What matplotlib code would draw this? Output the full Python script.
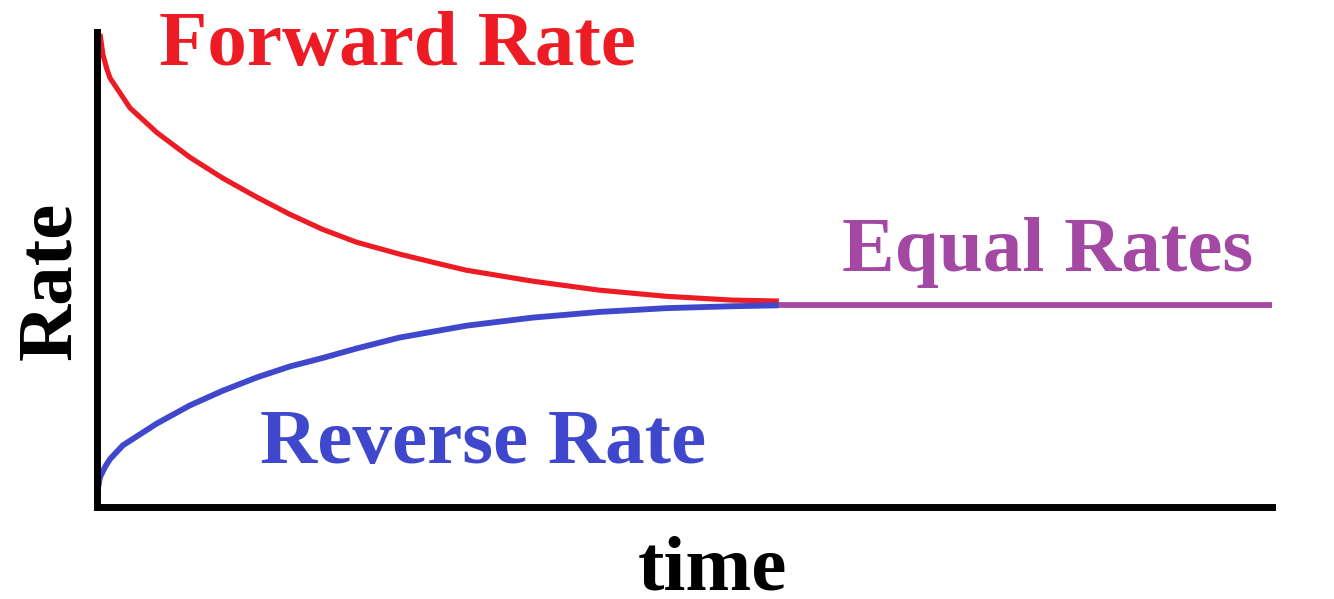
import numpy as np
import matplotlib
matplotlib.use("Agg")
from matplotlib import pyplot as plt

# curve points (time 0-100, rate 0-100)
forward_t = [0.3, 0.55, 0.87, 1.15, 2.85, 5.14, 7.94, 10.74, 13.63, 16.43,
             19.24, 22.12, 25.77, 28.9, 31.46, 37.07, 42.76, 48.45, 54.05, 58.05]
forward_r = [99.6, 95.2, 92.3, 90.3, 84.0, 78.8, 73.6, 69.2, 65.2, 61.6,
             58.4, 55.7, 53.2, 51.3, 49.8, 47.5, 45.6, 44.3, 43.5, 43.3]

reverse_t = [0.04, 0.13, 0.3, 0.72, 1.15, 2.25, 5.14, 7.94, 10.74, 13.63,
             16.43, 19.24, 22.12, 25.77, 31.46, 37.07, 42.76, 48.45, 54.05, 58.05]
reverse_r = [1.8, 3.9, 6.2, 8.3, 10.0, 12.9, 17.5, 21.3, 24.4, 27.2,
             29.5, 31.3, 33.3, 35.6, 38.1, 39.8, 41.0, 41.8, 42.2, 42.4]

equal_t = [58.05, 100.0]
equal_r = [42.4, 42.4]

RED = "#ED1C24"
BLUE = "#3F48CC"
PURPLE = "#A349A4"
FONT = "Liberation Serif"

W, H = 1334, 599
fig = plt.figure(figsize=(W / 100, H / 100), dpi=100)
# axes box in pixels: left spine at x=96.5, bottom spine at y=506.5
left, right, top, bottom = 96.5, 1272, 32, 506.5
ax = fig.add_axes([left / W, (H - bottom) / H, (right - left) / W, (bottom - top) / H])

ax.plot(forward_t, forward_r, c=RED, lw=3.7, solid_capstyle="butt",
        solid_joinstyle="round", clip_on=False)
ax.plot(reverse_t, reverse_r, c=BLUE, lw=4.2, solid_capstyle="butt",
        solid_joinstyle="round", clip_on=False)
ax.plot(equal_t, equal_r, c=PURPLE, lw=4.2, solid_capstyle="butt", clip_on=False)

ax.set_xlim(0, 100)
ax.set_ylim(0, 100)
ax.set_xticks([])
ax.set_yticks([])
for s in ["top", "right"]:
    ax.spines[s].set_visible(False)
for s in ["left", "bottom"]:
    ax.spines[s].set_linewidth(5)
    ax.spines[s].set_color("black")

txt = dict(family=FONT, weight="bold", fontsize=57)
ax.text(5.3, 93.1, "Forward Rate", color=RED, ha="left", va="baseline", **txt)
ax.text(13.9, 9.1, "Reverse Rate", color=BLUE, ha="left", va="baseline", **txt)
ax.text(63.4, 49.6, "Equal Rates", color=PURPLE, ha="left", va="baseline", **txt)

fig.text(70 / W, (H - 280.5) / H, "Rate", rotation=90, rotation_mode="anchor",
         ha="center", va="baseline", color="black", **txt)
fig.text(712 / W, (H - 590) / H, "time", ha="center", va="baseline",
         color="black", **txt)

fig.savefig("out.png", dpi=100)
